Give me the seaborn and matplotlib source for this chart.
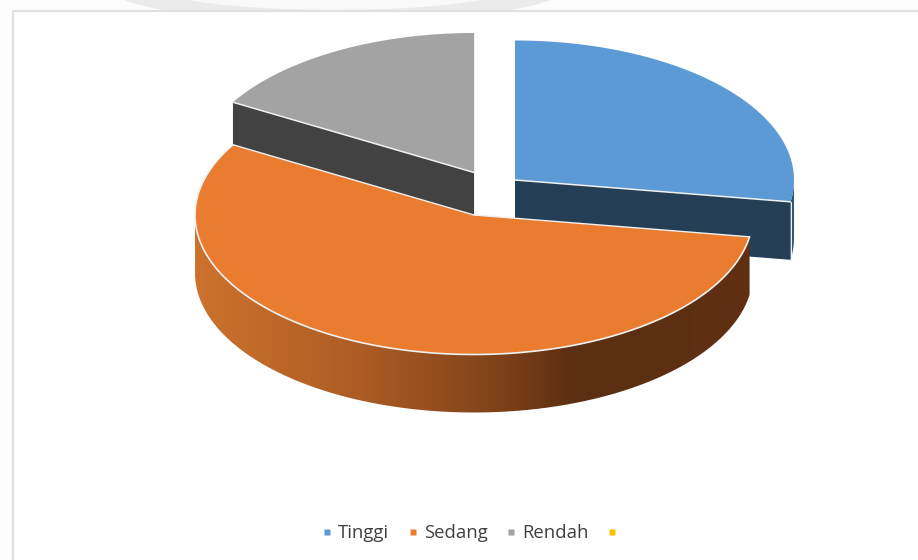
import numpy as np
import matplotlib
matplotlib.use("Agg")
import matplotlib.pyplot as plt
from matplotlib.colors import LinearSegmentedColormap
from matplotlib.lines import Line2D
from matplotlib.patches import Ellipse, PathPatch, Polygon, Rectangle
from matplotlib.path import Path
import seaborn as sns

categories = ["Tinggi", "Sedang", "Rendah", ""]
shares = [27.5, 55.9, 16.6, 0.0]
top_colors = ["#5B9AD5", "#EA7C30", "#A3A3A3", "#FFC000"]
cut_colors = ["#243E56", "#5F3012", "#424242", "#7F6000"]

sns.set_theme(style="white")
plt.rcParams["font.family"] = ["Open Sans", "DejaVu Sans"]
palette = sns.color_palette(top_colors)

# Pie geometry in pixel units of the canvas
RX, RY, DEPTH = 279, 139.5, 58
APEX = {"Tinggi": (515, 180), "Sedang": (474, 215), "Rendah": (474, 172.5)}

fig = plt.figure(figsize=(9.18, 5.6), dpi=100, facecolor="#FDFDFD")
ax = fig.add_axes([0, 0, 1, 1])
ax.set_xlim(0, 918)
ax.set_ylim(560, 0)
ax.axis("off")


def rim(apex, a0, a1, drop=0.0, n=240):
    """Points on the elliptical rim between two clockwise angles from 12 o'clock."""
    t = np.radians(np.linspace(a0, a1, n))
    return np.column_stack([apex[0] + RX * np.sin(t), apex[1] - RY * np.cos(t) + drop])


# Backdrop: reflection above the frame, then the frame itself
ax.add_patch(Rectangle((12.5, 10.5), 920, 560, fc="white", ec="#E0E0E0", lw=1.6, zorder=1))
clip = Rectangle((0, 0), 918, 9.5, transform=ax.transData)
for center, radii, shade in [((337, -15), (232, 38), "#EBEBEB"), ((335, -14), (180, 24), "#F9F9F9")]:
    patch = Ellipse(center, radii[0] * 2, radii[1] * 2, fc=shade, ec="none", zorder=0.5)
    ax.add_patch(patch)
    patch.set_clip_path(clip)

edges = np.cumsum([0.0] + shares) / 100 * 360
span = dict(zip(categories, zip(edges[:-1], edges[1:])))
SEAM = "#F0F0F0"


def cut_face(name, angle, colour, z):
    apex = APEX[name]
    end = rim(apex, angle, angle, n=1)[0]
    pts = [apex, end, (end[0], end[1] + DEPTH), (apex[0], apex[1] + DEPTH)]
    ax.add_patch(Polygon(pts, fc=colour, ec="none", zorder=z))


def top_face(name, colour, z):
    apex = APEX[name]
    a0, a1 = span[name]
    outline = rim(apex, a0, a1)
    ax.add_patch(Polygon(np.vstack([[apex], outline]), fc=colour, ec="none", zorder=z))
    return outline


def seam(points, z, lw=1.1):
    pts = np.asarray(points)
    ax.plot(pts[:, 0], pts[:, 1], color=SEAM, lw=lw, zorder=z, solid_capstyle="round")


def wall_path(name, a0, a1):
    apex = APEX[name]
    upper = rim(apex, a0, a1)
    lower = rim(apex, a0, a1, drop=DEPTH)[::-1]
    return np.vstack([upper, lower])


# Rendah and Tinggi sit behind Sedang
cut_face("Rendah", span["Rendah"][0], cut_colors[2], 2)
rendah_rim = top_face("Rendah", palette[2], 3)
seam([APEX["Rendah"], rendah_rim[0]], 3.2)
seam([(APEX["Rendah"][0], APEX["Rendah"][1] - RY), APEX["Rendah"],
      (APEX["Rendah"][0], APEX["Rendah"][1] + DEPTH)], 3.1, lw=0.7)

cut_face("Tinggi", span["Tinggi"][1], cut_colors[0], 2)
ax.add_patch(Polygon(wall_path("Tinggi", 90, span["Tinggi"][1]), fc="#2E5272", ec="none", zorder=2.5))
tinggi_rim = top_face("Tinggi", palette[0], 3)
seam([APEX["Tinggi"], tinggi_rim[-1]], 3.2)
end_x, end_y = tinggi_rim[-1]
seam([(end_x, end_y), (end_x, end_y + DEPTH)], 3.1, lw=0.8)

# Sedang's outer wall, shaded from left to right
shade = LinearSegmentedColormap.from_list(
    "wall",
    [(0.0, "#CC722D"), (0.3, "#AC5C24"), (0.55, "#7E4119"), (0.68, "#5C2F12"), (1.0, "#5F3012")],
)
left, right = APEX["Sedang"][0] - RX, APEX["Sedang"][0] + RX
wall = ax.imshow(np.linspace(0, 1, 512)[None, :], cmap=shade, aspect="auto",
                 extent=(left, right, 420, 200), zorder=4)
wall_patch = PathPatch(Path(wall_path("Sedang", span["Sedang"][0], 270)),
                       fc="none", ec="none", transform=ax.transData)
ax.add_patch(wall_patch)
wall.set_clip_path(wall_patch)
sedang_rim = top_face("Sedang", palette[1], 5)
seam(sedang_rim, 5.2, lw=1.2)
seam([sedang_rim[-1], APEX["Sedang"]], 5.2, lw=1.0)
seam([APEX["Sedang"], sedang_rim[0]], 5.2, lw=1.0)

ax.set_xlim(0, 918)
ax.set_ylim(560, 0)

handles = [Line2D([], [], ls="none", marker="s", ms=5, mec="none", mfc=c) for c in palette]
ax.legend(handles, categories, loc="center", bbox_to_anchor=(470, 533),
          bbox_transform=ax.transData, ncol=4, frameon=False, fontsize=13.3,
          labelcolor="#404040", handletextpad=0.05, columnspacing=0.72, handlelength=1.1)

fig.savefig("out.png", dpi=100, facecolor=fig.get_facecolor())
